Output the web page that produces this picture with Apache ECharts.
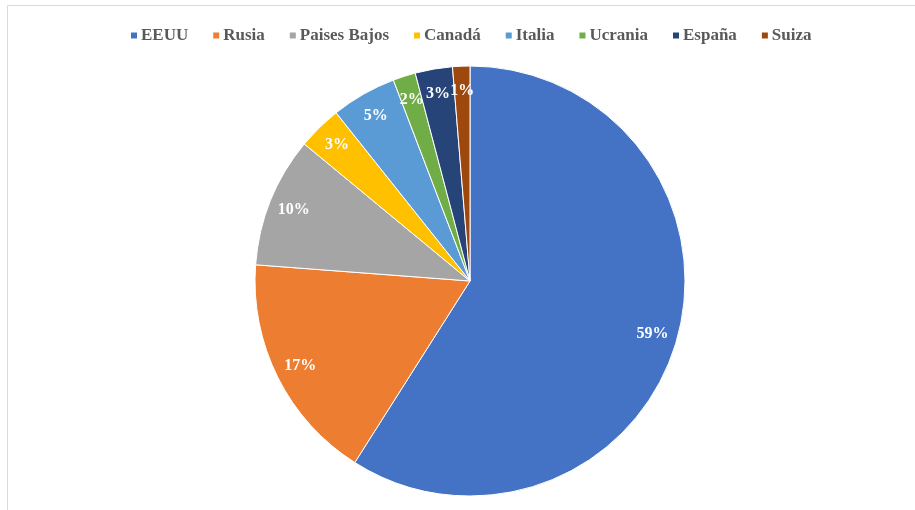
<!DOCTYPE html>
<html><head><meta charset="utf-8">
<script src="https://cdn.jsdelivr.net/npm/echarts@6/dist/echarts.min.js"></script>
<style>html,body{margin:0;padding:0;background:#fff}#c{width:915px;height:510px}</style>
</head><body><div id="c"></div>
<script>
const categories = ['EEUU','Rusia','Paises Bajos','Canadá','Italia','Ucrania','España','Suiza'];
const values = [59.0, 17.2, 9.8, 3.3, 4.9, 1.7, 2.8, 1.3];
const colors = ['#4472C4','#ED7D31','#A5A5A5','#FFC000','#5B9BD5','#70AD47','#264478','#9E480E'];

const data = categories.map((n,i)=>({name:n, value:values[i]}));
const chart = echarts.init(document.getElementById('c'));
const R = 215;
chart.setOption({
  animation:false,
  color: colors,
  graphic:[{type:'rect', shape:{x:7.5,y:5.5,width:920,height:520}, style:{fill:'none', stroke:'#d9d9d9', lineWidth:1}, silent:true}],
  legend:{
    top:22, left:124, itemWidth:8, itemHeight:8, itemGap:23, icon:'rect',
    textStyle:{fontFamily:'Liberation Serif', fontWeight:'bold', fontSize:17, color:'#595959', padding:[0,0,0,-2]},
    data: categories
  },
  series:[
    {type:'pie', center:[470,281], radius:[0,R], startAngle:90, clockwise:true,
     itemStyle:{borderColor:'#fff', borderWidth:1},
     label:{show:false}, labelLine:{show:false}, data:data},
    {type:'pie', center:[470,281], radius:[R*0.74,R], startAngle:90, clockwise:true, silent:true,
     itemStyle:{color:'rgba(0,0,0,0)', borderWidth:0},
     label:{show:true, position:'inside', color:'#fff', fontFamily:'Liberation Serif', fontWeight:'bold', fontSize:16,
       formatter: p => Math.round(p.percent) + '%'},
     labelLine:{show:false}, data:data, legendHoverLink:false}
  ]
});
</script></body></html>
